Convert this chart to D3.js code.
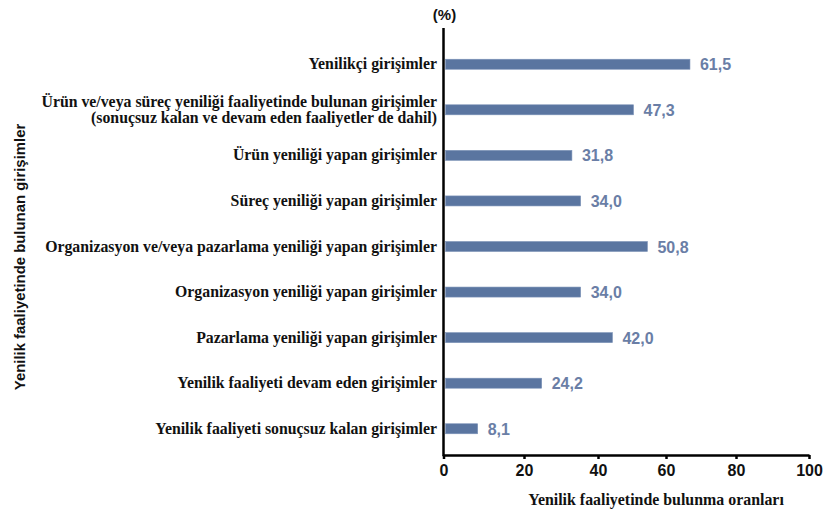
<!DOCTYPE html>
<html>
<head>
<meta charset="utf-8">
<script src="https://cdn.jsdelivr.net/npm/d3@7"></script>
<style>
  html, body { margin: 0; padding: 0; background: #fff; }
  svg { display: block; }
</style>
</head>
<body>
<svg id="chart" width="833" height="522"></svg>
<script>
// Categories (each entry is one or more text lines) and their shares (%)
const categories = [
  ["Yenilikçi girişimler"],
  ["Ürün ve/veya süreç yeniliği faaliyetinde bulunan girişimler", "(sonuçsuz kalan ve devam eden faaliyetler de dahil)"],
  ["Ürün yeniliği yapan girişimler"],
  ["Süreç yeniliği yapan girişimler"],
  ["Organizasyon ve/veya pazarlama yeniliği yapan girişimler"],
  ["Organizasyon yeniliği yapan girişimler"],
  ["Pazarlama yeniliği yapan girişimler"],
  ["Yenilik faaliyeti devam eden girişimler"],
  ["Yenilik faaliyeti sonuçsuz kalan girişimler"]
];
const values = [61.5, 47.3, 31.8, 34.0, 50.8, 34.0, 42.0, 24.2, 8.1];
const xTicks = [0, 20, 40, 60, 80, 100];
const xTitle = "Yenilik faaliyetinde bulunma oranları";
const yTitle = "Yenilik faaliyetinde bulunan girişimler";
const unitLabel = "(%)";

const svg = d3.select("#chart");
const serif = "'Liberation Serif', 'DejaVu Serif', serif";
const sans = "'Liberation Sans', Arial, sans-serif";

const axisX = 443.5, axisY = 455, axisTop = 28;

// Bar length scale
const x = d3.scaleLinear().domain([0, 100]).range([445.5, 843]);
// Axis tick placement
const xAxisScale = d3.scaleLinear().domain(xTicks).range([443.5, 524, 598, 666, 736, 809]);

const y = d3.scaleBand()
  .domain(d3.range(categories.length))
  .range([41, 452])
  .paddingInner(0.78)
  .paddingOuter(0.4);

// Bars
svg.append("g").selectAll("rect")
  .data(values)
  .join("rect")
  .attr("x", x(0))
  .attr("y", (d, i) => y(i))
  .attr("width", d => x(d) - x(0))
  .attr("height", y.bandwidth())
  .attr("fill", "#5a75a0")
  .attr("stroke", "#7d93b8")
  .attr("stroke-width", 0.6);

// Value labels
svg.append("g").selectAll("text")
  .data(values)
  .join("text")
  .attr("x", d => x(d) + 10)
  .attr("y", (d, i) => y(i) + y.bandwidth() / 2 + 6)
  .attr("font-family", sans)
  .attr("font-weight", "bold")
  .attr("font-size", 16)
  .attr("fill", "#6a7ea6")
  .text(d => d.toFixed(1).replace(".", ","));

// Category labels
const catG = svg.append("g");
categories.forEach((lines, i) => {
  const cy = y(i) + y.bandwidth() / 2;
  const t = catG.append("text")
    .attr("text-anchor", "end")
    .attr("font-family", serif)
    .attr("font-weight", "bold")
    .attr("font-size", 15.8)
    .attr("fill", "#111");
  const lh = 16;
  const y0 = cy - (lines.length - 1) * lh / 2 + 5;
  lines.forEach((ln, k) => {
    t.append("tspan").attr("x", 437).attr("y", y0 + k * lh).text(ln);
  });
});

// X axis
const gx = svg.append("g")
  .attr("transform", `translate(0,${axisY})`)
  .call(d3.axisBottom(xAxisScale).tickValues(xTicks).tickSize(4).tickSizeOuter(0).tickPadding(6));
gx.select(".domain").attr("stroke", "#000").attr("stroke-width", 2.5);
gx.selectAll(".tick line").attr("stroke", "#000").attr("stroke-width", 2.5);
gx.selectAll(".tick text")
  .attr("font-family", sans)
  .attr("font-weight", "bold")
  .attr("font-size", 16)
  .attr("fill", "#111");

// Y axis line
svg.append("line")
  .attr("x1", axisX).attr("x2", axisX)
  .attr("y1", axisTop).attr("y2", axisY + 1.25)
  .attr("stroke", "#000").attr("stroke-width", 2.5);

// Unit label
svg.append("text")
  .attr("x", axisX + 1).attr("y", 20)
  .attr("text-anchor", "middle")
  .attr("font-family", sans)
  .attr("font-weight", "bold")
  .attr("font-size", 15)
  .attr("fill", "#111")
  .text(unitLabel);

// Axis titles
svg.append("text")
  .attr("x", 656).attr("y", 505)
  .attr("text-anchor", "middle")
  .attr("font-family", serif)
  .attr("font-weight", "bold")
  .attr("font-size", 15.9)
  .attr("fill", "#111")
  .text(xTitle);

svg.append("text")
  .attr("transform", "translate(25,257) rotate(-90)")
  .attr("text-anchor", "middle")
  .attr("font-family", sans)
  .attr("font-weight", "bold")
  .attr("font-size", 14.9)
  .attr("fill", "#111")
  .text(yTitle);
</script>
</body>
</html>
